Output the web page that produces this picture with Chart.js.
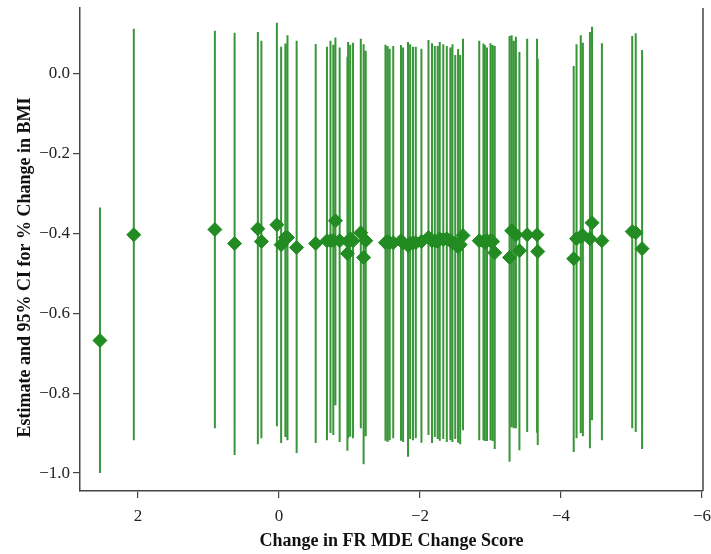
<!DOCTYPE html>
<html>
<head>
<meta charset="utf-8">
<script src="https://cdn.jsdelivr.net/npm/chart.js@4.4.1/dist/chart.umd.min.js"></script>
<style>
  html, body { margin: 0; padding: 0; background: #fff; }
  #wrap { width: 711px; height: 554px; }
</style>
</head>
<body>
<div id="wrap"><canvas id="grafico" width="711" height="554"></canvas></div>
<script>
// one entry per model: change score, estimate and 95% CI
const changeScore = [2.54, 2.06, 0.91, 0.63, 0.30, 0.25, 0.03, -0.03, -0.09, -0.12, -0.25, -0.52,
  -0.68, -0.73, -0.77, -0.80, -0.86, -0.97, -0.98, -1.01, -1.05, -1.16, -1.20, -1.23,
  -1.51, -1.54, -1.57, -1.62, -1.73, -1.76, -1.83, -1.86, -1.90, -1.94, -2.02, -2.12,
  -2.17, -2.21, -2.25, -2.28, -2.33, -2.38, -2.43, -2.46, -2.50, -2.54, -2.57, -2.61,
  -2.84, -2.90, -2.92, -2.95, -3.00, -3.03, -3.06,
  -3.27, -3.30, -3.33, -3.36, -3.41, -3.52, -3.66, -3.67,
  -4.18, -4.22, -4.28, -4.31, -4.41, -4.44, -4.58, -5.01, -5.06, -5.15];

const estimate = [-0.668, -0.403, -0.390, -0.425, -0.388, -0.420, -0.378, -0.428, -0.410, -0.410, -0.435, -0.425,
  -0.418, -0.418, -0.418, -0.368, -0.418, -0.450, -0.420, -0.413, -0.418, -0.398, -0.460, -0.418,
  -0.423, -0.420, -0.423, -0.423, -0.418, -0.423, -0.430, -0.425, -0.423, -0.423, -0.420, -0.410,
  -0.418, -0.418, -0.420, -0.413, -0.415, -0.413, -0.418, -0.423, -0.425, -0.433, -0.428, -0.405,
  -0.418, -0.420, -0.423, -0.418, -0.418, -0.420, -0.448,
  -0.460, -0.393, -0.398, -0.403, -0.443, -0.403, -0.403, -0.445,
  -0.463, -0.413, -0.408, -0.405, -0.413, -0.373, -0.418, -0.395, -0.398, -0.438];

const lowerCI = [-1.000, -0.918, -0.888, -0.955, -0.928, -0.913, -0.883, -0.925, -0.910, -0.918, -0.950, -0.925,
  -0.918, -0.900, -0.905, -0.830, -0.922, -0.944, -0.913, -0.909, -0.913, -0.888, -0.978, -0.908,
  -0.919, -0.922, -0.918, -0.913, -0.919, -0.922, -0.959, -0.915, -0.918, -0.913, -0.924, -0.905,
  -0.925, -0.910, -0.915, -0.919, -0.915, -0.922, -0.918, -0.922, -0.915, -0.924, -0.928, -0.893,
  -0.918, -0.918, -0.920, -0.920, -0.918, -0.920, -0.940,
  -0.972, -0.885, -0.888, -0.888, -0.943, -0.897, -0.899, -0.930,
  -0.947, -0.913, -0.900, -0.908, -0.938, -0.868, -0.918, -0.888, -0.897, -0.940];

const upperCI = [-0.335, 0.113, 0.108, 0.103, 0.105, 0.083, 0.128, 0.068, 0.076, 0.097, 0.083, 0.075,
  0.068, 0.083, 0.073, 0.091, 0.066, 0.043, 0.080, 0.073, 0.078, 0.088, 0.074, 0.058,
  0.073, 0.070, 0.063, 0.070, 0.072, 0.066, 0.080, 0.074, 0.068, 0.068, 0.063, 0.085,
  0.077, 0.070, 0.070, 0.080, 0.074, 0.070, 0.066, 0.074, 0.047, 0.062, 0.047, 0.088,
  0.083, 0.076, 0.072, 0.066, 0.077, 0.072, 0.070,
  0.095, 0.097, 0.083, 0.093, 0.055, 0.088, 0.088, 0.038,
  0.020, 0.074, 0.097, 0.078, 0.105, 0.118, 0.077, 0.095, 0.102, 0.060];

const xTicks = [2, 0, -2, -4, -6];
const yTicks = [0.0, -0.2, -0.4, -0.6, -0.8, -1.0];

const verde = "rgb(34,139,34)";
const serif = "'Liberation Serif', 'Times New Roman', serif";

var pontos = changeScore.map(function (x, i) { return { x: x, y: estimate[i] }; });

// CI segments, split by a null point so the line breaks between them
var barras = [];
for (var i = 0; i < changeScore.length; i++) {
  barras.push({ x: changeScore[i], y: lowerCI[i] });
  barras.push({ x: changeScore[i], y: upperCI[i] });
  barras.push({ x: changeScore[i], y: null });
}

function menos(v, casas) {
  if (Math.abs(v) < 1e-9) v = 0;
  return v.toFixed(casas).replace("-", "\u2212");
}

// right frame line
const moldura = {
  id: "moldura",
  afterDraw: function (chart) {
    var a = chart.chartArea, ctx = chart.ctx;
    ctx.save();
    ctx.strokeStyle = "#444";
    ctx.lineWidth = 1.5;
    ctx.beginPath();
    ctx.moveTo(a.right, a.top);
    ctx.lineTo(a.right, a.bottom);
    ctx.stroke();
    ctx.restore();
  }
};

var ctx = document.getElementById("grafico").getContext("2d");

var chart = new Chart(ctx, {
  type: "scatter",
  data: {
    datasets: [
      {
        data: pontos,
        pointStyle: "rectRot",
        pointRadius: 7,
        pointBorderWidth: 1,
        backgroundColor: verde,
        borderColor: verde,
        showLine: false
      },
      {
        data: barras,
        showLine: true,
        spanGaps: false,
        pointRadius: 0,
        borderColor: "rgba(34,139,34,0.9)",
        borderWidth: 2
      }
    ]
  },
  options: {
    responsive: false,
    animation: false,
    devicePixelRatio: 1,
    layout: { padding: { left: 11, right: 2, top: 0, bottom: 0 } },
    plugins: { legend: { display: false }, tooltip: { enabled: false } },
    scales: {
      x: {
        type: "linear",
        reverse: true,
        min: -6.014,
        max: 2.823,
        afterBuildTicks: function (s) { s.ticks = xTicks.map(function (v) { return { value: v }; }); },
        afterFit: function (s) { s.height = 63; s.paddingLeft = 0; s.paddingRight = 0; },
        grid: { drawOnChartArea: false, drawTicks: true, tickLength: 7, color: "#444", lineWidth: 1.2 },
        border: { display: true, color: "#444", width: 1.5 },
        ticks: {
          padding: 8,
          color: "#222",
          font: { family: serif, size: 17 },
          callback: function (v) { return menos(v, 0); }
        },
        title: {
          display: true,
          text: "Change in FR MDE Change Score",
          color: "#111",
          font: { family: serif, size: 18, weight: "bold", lineHeight: 1.0 }
        }
      },
      y: {
        type: "linear",
        min: -1.045,
        max: 0.165,
        afterBuildTicks: function (s) { s.ticks = yTicks.map(function (v) { return { value: v }; }); },
        afterFit: function (s) { s.width = 69; s.paddingTop = 0; s.paddingBottom = 0; },
        grid: { drawOnChartArea: false, drawTicks: true, tickLength: 7, color: "#444", lineWidth: 1.2 },
        border: { display: true, color: "#444", width: 1.5 },
        ticks: {
          padding: 3,
          color: "#222",
          font: { family: serif, size: 17 },
          callback: function (v) { return menos(v, 1); }
        },
        title: {
          display: true,
          text: "Estimate and 95% CI for % Change in BMI        ",
          color: "#111",
          font: { family: serif, size: 18, weight: "bold" }
        }
      }
    }
  },
  plugins: [moldura]
});
</script>
</body>
</html>
